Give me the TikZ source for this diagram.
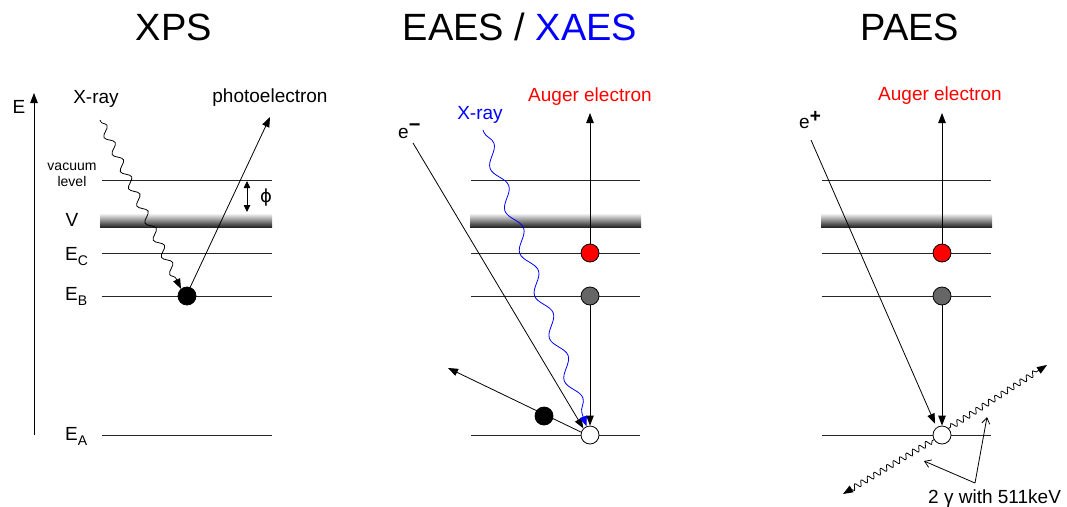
\documentclass[tikz,border=0pt]{standalone}
\usepackage{fontspec}
\setmainfont{Liberation Sans}
\newfontfamily\djv{DejaVu Sans}
\usetikzlibrary{arrows.meta,decorations.pathmorphing}
\begin{document}
\begin{tikzpicture}[x=1pt,y=-1pt,
  lvl/.style={line width=0.9pt, black!85},
  bandbox/.style={top color=white, middle color=black!22, bottom color=black!85, draw=none},
  dotn/.style={circle, draw=black, line width=0.8pt, minimum size=18pt, inner sep=0pt},
  arr/.style={-{Triangle[length=10pt,width=7.5pt]}, line width=0.8pt},
  ptr/.style={-{Straight Barb[length=6pt,width=8pt]}, line width=0.8pt},
  wave/.style={decorate, decoration={snake, amplitude=4pt, segment length=19pt, pre length=2pt, post length=10pt}},
  bwave/.style={decorate, decoration={snake, amplitude=6pt, segment length=45pt, pre length=2pt, post length=10pt}},
  gwave/.style={decorate, decoration={snake, amplitude=2.8pt, segment length=7.5pt, pre length=2pt, post length=9pt}},
  lbl/.style={font=\fontsize{19}{22}\selectfont, inner sep=0pt},
  small/.style={font=\fontsize{14}{16}\selectfont, inner sep=0pt},
  ttl/.style={font=\fontsize{38}{42}\selectfont, inner sep=0pt, anchor=base}
]
\useasboundingbox (0,0) rectangle (1067,506);
\newcommand{\Esub}[1]{E\raisebox{-5pt}{\fontsize{14}{14}\selectfont #1}}

% titles
\node[ttl] (t1) at (174,40) {XPS};
\node[ttl] (t2) at (520,40) {EAES / \textcolor{blue}{XAES}};
\node[ttl] (t3) at (910,40) {PAES};

% ---------- XPS ----------
\coordinate (axb) at (34,435);
\coordinate (axt) at (34,93);
\draw[arr] (axb) -- (axt);
\node[lbl, anchor=base] (eax) at (19,113) {E};
\node[lbl, anchor=base] (xr1) at (96,103) {X-ray};
\node[lbl, anchor=base] (pel) at (270,102) {photoelectron};
\node[small, anchor=base] (vac1) at (72,170) {vacuum};
\node[small, anchor=base] (vac2) at (72,186) {level};
\node[lbl, anchor=base] (vl) at (72,226) {V};
\node[lbl, anchor=base west] (ec1) at (65,260) {\Esub{C}};
\node[lbl, anchor=base west] (eb1) at (65,300) {\Esub{B}};
\node[lbl, anchor=base west] (ea1) at (65,440) {\Esub{A}};

\fill[bandbox] (100,213) rectangle (272,227);
\draw[lvl] (102,180) -- (272,180);
\draw[lvl] (102,253) -- (272,253);
\draw[lvl] (102,296) -- (272,296);
\draw[lvl] (102,435) -- (272,435);
\draw[{Triangle[length=7pt,width=6.5pt]}-{Triangle[length=7pt,width=6.5pt]}, line width=0.8pt] (247,181) -- (247,212);
\node[font=\djv\fontsize{18}{20}\selectfont, inner sep=0pt, anchor=center] (phi) at (266,198) {ϕ};

\node[dotn, fill=black] (xb) at (187,296) {};
\coordinate (xs) at (100,120);
\coordinate (pe) at (270,117);
\draw[arr, wave] (xs) -- (xb.130);
\draw[arr] (xb.70) -- (pe);

% ---------- EAES / XAES ----------
\fill[bandbox] (470,213) rectangle (641,227);
\draw[lvl] (471,180) -- (640,180);
\draw[lvl] (471,253) -- (640,253);
\draw[lvl] (471,296) -- (640,296);
\draw[lvl] (471,435) -- (640,435);
\node[lbl, anchor=base, text=red] (au1) at (590,101) {Auger electron};
\node[lbl, anchor=base, text=blue] (xr2) at (480,119) {X-ray};
\node[lbl, anchor=base west] (em) at (398,138) {e\raisebox{7pt}{\fontsize{20}{20}\selectfont\bfseries −}};

\node[dotn, fill=red] (er) at (590,253) {};
\node[dotn, fill=black!60] (eg) at (590,296) {};
\node[dotn, fill=white] (ew) at (590,435) {};
\coordinate (au1t) at (590,113);
\coordinate (ems) at (413,143);
\coordinate (xbs) at (483,130);
\coordinate (eout) at (448,368);
\draw[arr] (er) -- (au1t);
\draw[arr] (eg) -- (ew);
\draw[arr] (ems) -- (ew.135);
\draw[arr, bwave, blue] (xbs) -- (ew.112);
\draw[arr] (ew.162) -- (eout);
\node[dotn, fill=black] (eb) at (544,416) {};

% ---------- PAES ----------
\fill[bandbox] (821,213) rectangle (992,227);
\draw[lvl] (822,180) -- (991,180);
\draw[lvl] (822,253) -- (991,253);
\draw[lvl] (822,296) -- (991,296);
\draw[lvl] (822,435) -- (991,435);
\node[lbl, anchor=base, text=red] (au2) at (940,100) {Auger electron};
\node[lbl, anchor=base west] (ep) at (799,128) {e\raisebox{6pt}{\fontsize{19}{19}\selectfont\bfseries +}};

\node[dotn, fill=red] (pr) at (942,253) {};
\node[dotn, fill=black!60] (pg) at (942,296) {};
\node[dotn, fill=white] (pw) at (942,435) {};
\coordinate (au2t) at (942,113);
\coordinate (eps) at (811,140);
\coordinate (g1) at (1047,365);
\coordinate (g2) at (843,494);
\draw[arr] (pr) -- (au2t);
\draw[arr] (pg) -- (pw);
\draw[arr, shorten >=4pt] (eps) -- (pw.125);
\draw[arr, gwave] (pw.45) -- (g1);
\draw[arr, gwave] (pw.210) -- (g2);

\coordinate (gv) at (975,483);
\coordinate (gp1) at (987,417);
\coordinate (gp2) at (924,461);
\draw[ptr] (gv) -- (gp1);
\draw[ptr] (gv) -- (gp2);
\node[lbl, anchor=base west] (glbl) at (928,503) {2 γ with 511keV};
\end{tikzpicture}
\end{document}
